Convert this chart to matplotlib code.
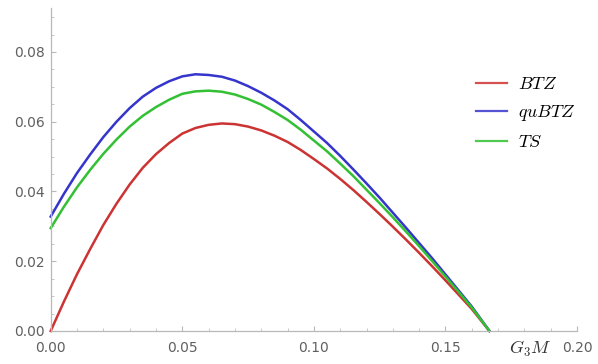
import matplotlib.pyplot as plt
from matplotlib.ticker import MultipleLocator
from matplotlib.lines import Line2D

plt.rcParams['mathtext.fontset'] = 'cm'

# G3M values (x axis)
x = [0.0, 0.005, 0.01, 0.015, 0.02, 0.025, 0.03, 0.035, 0.04, 0.045,
     0.05, 0.055, 0.06, 0.065, 0.07, 0.075, 0.08, 0.085, 0.09, 0.095,
     0.1, 0.105, 0.11, 0.115, 0.12, 0.125, 0.13, 0.135, 0.14, 0.145,
     0.15, 0.155, 0.16, 0.1667]

btz = [0.0, 0.0084, 0.0163, 0.0235, 0.0304, 0.0365, 0.0420, 0.0468, 0.0507, 0.0539,
       0.0566, 0.0582, 0.0591, 0.0595, 0.0593, 0.0586, 0.0575, 0.0560, 0.0542, 0.0519,
       0.0493, 0.0466, 0.0436, 0.0404, 0.0370, 0.0335, 0.0299, 0.0262, 0.0224, 0.0185,
       0.0145, 0.0104, 0.0063, 0.0]

qubtz = [0.0328, 0.0393, 0.0453, 0.0506, 0.0556, 0.0600, 0.0639, 0.0672, 0.0697, 0.0716,
         0.0730, 0.0736, 0.0734, 0.0729, 0.0718, 0.0702, 0.0683, 0.0661, 0.0636, 0.0605,
         0.0572, 0.0539, 0.0502, 0.0463, 0.0423, 0.0382, 0.0339, 0.0296, 0.0252, 0.0208,
         0.0162, 0.0116, 0.0070, 0.0]

ts = [0.0295, 0.0356, 0.0412, 0.0462, 0.0508, 0.0549, 0.0586, 0.0617, 0.0642, 0.0663,
      0.0680, 0.0687, 0.0689, 0.0686, 0.0678, 0.0665, 0.0649, 0.0628, 0.0605, 0.0577,
      0.0546, 0.0515, 0.0480, 0.0444, 0.0405, 0.0366, 0.0326, 0.0285, 0.0243, 0.0200,
      0.0156, 0.0112, 0.0067, 0.0]

labels = ['$BTZ$', '$quBTZ$', '$TS$']
colors = ['#cc3333', '#3535cc', '#33c033']

fig = plt.figure(figsize=(5.98, 3.64), dpi=100)
ax = fig.add_axes([0.0848, 0.0907, 0.8802, 0.8873])

for y, c in zip([btz, qubtz, ts], colors):
    ax.plot(x, y, color=c, lw=1.8, clip_on=False, solid_joinstyle='round')

ax.set_xlim(0, 0.2)
ax.set_ylim(0, 0.0926)

for s in ['top', 'right']:
    ax.spines[s].set_visible(False)
for s in ['left', 'bottom']:
    ax.spines[s].set_color('#b8b8b8')
    ax.spines[s].set_linewidth(0.9)

ax.xaxis.set_major_locator(MultipleLocator(0.05))
ax.xaxis.set_minor_locator(MultipleLocator(0.01))
ax.yaxis.set_major_locator(MultipleLocator(0.02))
ax.yaxis.set_minor_locator(MultipleLocator(0.005))
ax.xaxis.set_major_formatter(lambda v, p: f'{v:.2f}')
ax.yaxis.set_major_formatter(lambda v, p: f'{v:.2f}')
ax.tick_params(which='major', direction='in', length=3.5, width=0.8,
               color='#b8b8b8', labelcolor='#606060', labelsize=10, pad=4)
ax.tick_params(axis='x', which='major', pad=7)
ax.tick_params(which='minor', direction='in', length=2, width=0.7, color='#c8c8c8')

fig.text(530 / 598, 15 / 364, '$G_3M$', fontsize=13, color='#333333',
         ha='center', va='center')

handles = [Line2D([], [], color=c, lw=1.6, alpha=0.85) for c in colors]
ax.legend(handles, labels, loc='center left', bbox_to_anchor=(0.808, 0.675),
          frameon=False, fontsize=13, handlelength=1.7, labelspacing=0.55,
          handletextpad=0.6, borderpad=0, borderaxespad=0)

fig.savefig('out.png', dpi=100)
